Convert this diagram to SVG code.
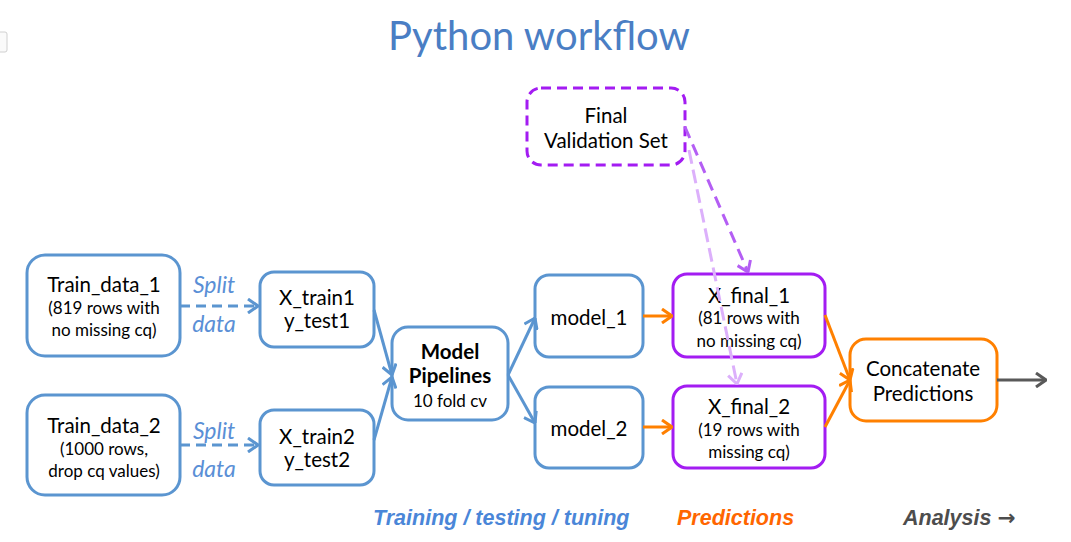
<svg xmlns="http://www.w3.org/2000/svg" width="1071" height="542" viewBox="0 0 1071 542">
<defs>
<style>
.box{fill:#fff;stroke-width:3}
.blue{stroke:#5b95d0}
.purple{stroke:#a31cf2}
.orange{stroke:#ff8000}
.t{font-family:Lato,"Liberation Sans",sans-serif;fill:#000;text-anchor:middle}
.big{font-size:20.5px}
.small{font-size:17px}
.lbl{font-family:"Liberation Sans",Arial,sans-serif;font-weight:bold;font-style:italic;font-size:21.5px}
.split{font-family:Lato,"Liberation Sans",sans-serif;font-style:italic;font-size:23px;fill:#5a8fd6;text-anchor:middle}
.c{fill:none;stroke-width:3}
</style>
<marker id="ab" viewBox="0 0 12 16" refX="11" refY="8" markerWidth="12" markerHeight="16" markerUnits="userSpaceOnUse" orient="auto"><path d="M1,1 L11,8 L1,15" fill="none" stroke="#5b95d0" stroke-width="3"/></marker>
<marker id="ao" viewBox="0 0 12 16" refX="11" refY="8" markerWidth="12" markerHeight="16" markerUnits="userSpaceOnUse" orient="auto"><path d="M1,1 L11,8 L1,15" fill="none" stroke="#ff8000" stroke-width="3"/></marker>
<marker id="ag" viewBox="0 0 12 16" refX="11" refY="8" markerWidth="12" markerHeight="16" markerUnits="userSpaceOnUse" orient="auto"><path d="M1,1 L11,8 L1,15" fill="none" stroke="#595959" stroke-width="3"/></marker>
<marker id="ap" viewBox="0 0 12 16" refX="11" refY="8" markerWidth="12" markerHeight="16" markerUnits="userSpaceOnUse" orient="auto"><path d="M1,1 L11,8 L1,15" fill="none" stroke="#b45ef4" stroke-width="3"/></marker>
<marker id="al" viewBox="0 0 12 16" refX="11" refY="8" markerWidth="12" markerHeight="16" markerUnits="userSpaceOnUse" orient="auto"><path d="M1,1 L11,8 L1,15" fill="none" stroke="#dcb0fb" stroke-width="3"/></marker>
</defs>
<rect width="1071" height="542" fill="#fff"/>
<rect x="-4" y="32" width="11" height="20" rx="2" fill="#fafafa" stroke="#d0d0d0" stroke-width="1"/>
<text x="539" y="50" font-family="Lato,'Liberation Sans',sans-serif" font-size="40" fill="#4a7ec4" text-anchor="middle">Python workflow</text>

<g id="train_data_1"><rect class="box blue" x="27" y="255" width="153" height="101" rx="18"/>
<text class="t big" x="104" y="292">Train_data_1</text><text class="t small" x="104" y="314">(819 rows with</text><text class="t small" x="104" y="336">no missing cq)</text></g>
<g id="train_data_2"><rect class="box blue" x="27" y="395" width="153" height="100" rx="18"/>
<text class="t big" x="104" y="433">Train_data_2</text><text class="t small" x="104" y="455">(1000 rows,</text><text class="t small" x="104" y="477">drop cq values)</text></g>
<g id="x_train1"><rect class="box blue" x="260" y="272" width="114" height="75" rx="14"/>
<text class="t big" x="317" y="305">X_train1</text><text class="t big" x="317" y="328">y_test1</text></g>
<g id="x_train2"><rect class="box blue" x="260" y="410" width="114" height="75" rx="14"/>
<text class="t big" x="317" y="444">X_train2</text><text class="t big" x="317" y="467">y_test2</text></g>
<g id="model_pipelines"><rect class="box blue" x="392" y="327" width="116" height="93" rx="16"/>
<text class="t big" x="450" y="359" font-weight="bold">Model</text><text class="t big" x="450" y="383" font-weight="bold">Pipelines</text><text class="t small" x="450" y="407">10 fold cv</text></g>
<g id="model_1"><rect class="box blue" x="535" y="275" width="108" height="82" rx="14"/>
<text class="t big" x="589" y="325">model_1</text></g>
<g id="model_2"><rect class="box blue" x="535" y="387" width="108" height="81" rx="14"/>
<text class="t big" x="589" y="436">model_2</text></g>
<g id="final_validation"><rect class="box purple" x="527" y="88" width="158" height="77" rx="14" stroke-dasharray="10 6"/>
<text class="t big" x="606" y="123">Final</text><text class="t big" x="606" y="148">Validation Set</text></g>
<g id="x_final_1"><rect class="box purple" x="673" y="274" width="152" height="83" rx="14"/>
<text class="t big" x="749" y="303">X_final_1</text><text class="t small" x="749" y="324">(81 rows with</text><text class="t small" x="749" y="347">no missing cq)</text></g>
<g id="x_final_2"><rect class="box purple" x="673" y="386" width="152" height="82" rx="14"/>
<text class="t big" x="749" y="414">X_final_2</text><text class="t small" x="749" y="436">(19 rows with</text><text class="t small" x="749" y="458">missing cq)</text></g>
<g id="concatenate"><rect class="box orange" x="850" y="339" width="147" height="82" rx="16"/>
<text class="t big" x="923" y="376">Concatenate</text><text class="t big" x="923" y="401">Predictions</text></g>

<g id="connectors">
<path class="c" d="M180,306 L258,306" stroke="#5b95d0" stroke-dasharray="10 6" marker-end="url(#ab)"/>
<path class="c" d="M180,445 L258,445" stroke="#5b95d0" stroke-dasharray="10 6" marker-end="url(#ab)"/>
<path class="c" d="M374,310 L392,375" stroke="#5b95d0" marker-end="url(#ab)"/>
<path class="c" d="M374,440 L392,377" stroke="#5b95d0" marker-end="url(#ab)"/>
<path class="c" d="M508,375 L535,318" stroke="#5b95d0" marker-end="url(#ab)"/>
<path class="c" d="M508,375 L535,423" stroke="#5b95d0" marker-end="url(#ab)"/>
<path class="c" d="M643,316 L672,316" stroke="#ff8000" marker-end="url(#ao)"/>
<path class="c" d="M643,427 L672,427" stroke="#ff8000" marker-end="url(#ao)"/>
<path class="c" d="M825,315 L850,380" stroke="#ff8000" marker-end="url(#ao)"/>
<path class="c" d="M825,427 L850,380" stroke="#ff8000" marker-end="url(#ao)"/>
<path class="c" d="M997,380 L1046,380" stroke="#595959" marker-end="url(#ag)"/>
<path class="c" d="M685,127 L748,272" stroke="#b45ef4" stroke-dasharray="12 7" marker-end="url(#ap)"/>
<path class="c" d="M689,150 L737,384" stroke="#dcb0fb" stroke-dasharray="14 6" marker-end="url(#al)"/>
</g>

<text class="split" x="214" y="293">Split</text><text class="split" x="214" y="332">data</text>
<text class="split" x="214" y="439">Split</text><text class="split" x="214" y="477">data</text>
<text class="lbl" x="373" y="525" fill="#4a86d8">Training / testing / tuning</text>
<text class="lbl" x="677" y="525" fill="#ff6600">Predictions</text>
<text class="lbl" x="903" y="525" fill="#4d4d4d">Analysis <tspan font-family="'DejaVu Sans',sans-serif" font-style="normal" font-weight="bold">→</tspan></text>
</svg>
